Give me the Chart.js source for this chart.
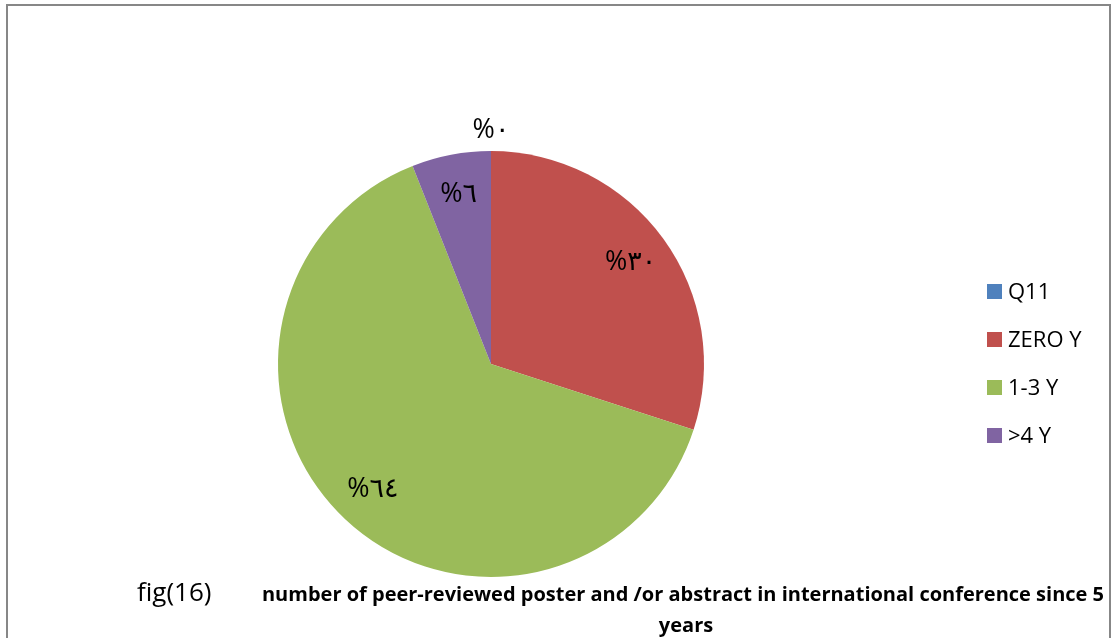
<!DOCTYPE html>
<html>
<head>
<meta charset="utf-8">
<script src="https://cdn.jsdelivr.net/npm/chart.js@4.4.1/dist/chart.umd.min.js"></script>
<style>
  html, body { margin: 0; padding: 0; background: #fff; overflow: hidden; }
  #wrap { width: 1112px; height: 638px; position: relative; }
  #pie { display: block; }
</style>
</head>
<body>
<div id="wrap"><canvas id="pie" width="1112" height="638"></canvas></div>
<script>
// Answer categories and their shares (percent)
const categories = ['Q11', 'ZERO Y', '1-3 Y', '>4 Y'];
const shares = [0, 30, 64, 6];
// Data labels as printed (Arabic-Indic digits)
const shareLabels = ['%٠', '%٣٠', '%٦٤', '%٦'];
const sliceColors = ['#4F81BD', '#C0504D', '#9BBB59', '#8064A2'];

const figLabel = 'fig(16)';
const titleLines = [
  'number of peer-reviewed poster and /or abstract in international conference since 5',
  'years'
];

// Outer frame around the whole figure
const framePlugin = {
  id: 'frame',
  afterDraw(chart) {
    const ctx = chart.ctx;
    ctx.save();
    ctx.fillStyle = '#878787';
    ctx.fillRect(6, 4, 2, 640);      // left edge
    ctx.fillRect(6, 4, 1105, 2);     // top edge
    ctx.fillRect(1109, 4, 2, 640);   // right edge
    ctx.restore();
  }
};

// Percent labels placed inside each slice; empty slices get theirs outside the rim
const sliceLabelPlugin = {
  id: 'sliceLabels',
  afterDatasetsDraw(chart) {
    const ctx = chart.ctx;
    const meta = chart.getDatasetMeta(0);
    ctx.save();
    ctx.font = '27px "Open Sans", "DejaVu Sans", sans-serif';
    ctx.fillStyle = '#000';
    ctx.textAlign = 'center';
    ctx.textBaseline = 'middle';
    ctx.direction = 'ltr';
    meta.data.forEach((arc, i) => {
      const p = arc.getProps(['x', 'y', 'startAngle', 'endAngle', 'outerRadius'], true);
      const mid = (p.startAngle + p.endAngle) / 2;
      const r = shares[i] === 0 ? p.outerRadius + 21 : p.outerRadius * 0.81;
      ctx.fillText(shareLabels[i], p.x + Math.cos(mid) * r, p.y + Math.sin(mid) * r);
    });
    ctx.restore();
  }
};

// Legend column on the right
const legendPlugin = {
  id: 'sideLegend',
  afterDraw(chart) {
    const ctx = chart.ctx;
    const labels = chart.data.labels;
    const colors = chart.data.datasets[0].backgroundColor;
    ctx.save();
    ctx.font = '22px "Open Sans", sans-serif';
    ctx.textBaseline = 'middle';
    ctx.textAlign = 'left';
    labels.forEach((lab, i) => {
      const cy = 291.5 + i * 48;
      ctx.fillStyle = colors[i];
      ctx.fillRect(987, cy - 7.5, 15, 15);
      ctx.fillStyle = '#000';
      ctx.fillText(lab, 1008, cy + 1);
    });
    ctx.restore();
  }
};

// Figure number and caption under the pie
const captionPlugin = {
  id: 'caption',
  afterDraw(chart) {
    const ctx = chart.ctx;
    ctx.save();
    ctx.fillStyle = '#000';
    ctx.textBaseline = 'alphabetic';
    ctx.font = '26px "Open Sans", sans-serif';
    ctx.textAlign = 'left';
    ctx.fillText(figLabel, 137, 601);
    ctx.font = 'bold 20px "Open Sans", sans-serif';
    ctx.textAlign = 'center';
    ctx.fillText(titleLines[0], 683, 601);
    ctx.fillText(titleLines[1], 686, 632);
    ctx.restore();
  }
};

new Chart(document.getElementById('pie'), {
  type: 'pie',
  data: {
    labels: categories,
    datasets: [{
      data: shares,
      backgroundColor: sliceColors,
      borderWidth: 0
    }]
  },
  options: {
    responsive: false,
    animation: false,
    rotation: 0,
    layout: { padding: { left: 278, right: 408, top: 151, bottom: 61 } },
    plugins: {
      legend: { display: false },
      tooltip: { enabled: false },
      title: { display: false }
    }
  },
  plugins: [sliceLabelPlugin, legendPlugin, captionPlugin, framePlugin]
});
</script>
</body>
</html>
